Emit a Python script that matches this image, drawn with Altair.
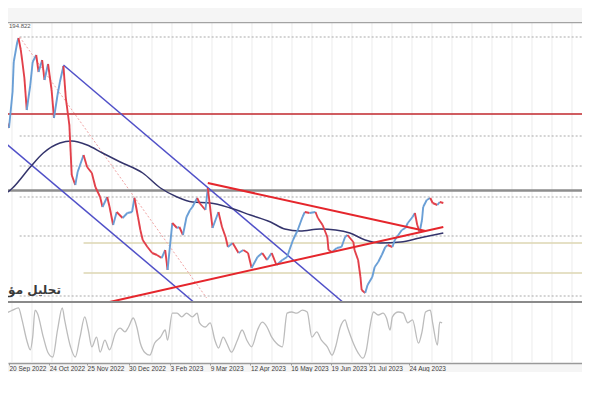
import altair as alt
import pandas as pd

# ---------------- data ----------------
price_dates = ["2022-09-12","2022-09-15","2022-09-17","2022-09-20","2022-09-23","2022-09-24","2022-09-27","2022-09-28","2022-09-30","2022-10-03",
"2022-10-05","2022-10-08","2022-10-10","2022-10-13","2022-10-15","2022-10-18","2022-10-20","2022-10-23","2022-10-26","2022-10-28",
"2022-10-31","2022-11-02","2022-11-05","2022-11-07","2022-11-10","2022-11-12","2022-11-15","2022-11-17","2022-11-22","2022-11-25",
"2022-11-29","2022-12-02","2022-12-06","2022-12-08","2022-12-12","2022-12-14","2022-12-17","2022-12-20","2022-12-25","2022-12-29",
"2023-01-02","2023-01-04","2023-01-07","2023-01-09","2023-01-11","2023-01-15","2023-01-19","2023-01-23","2023-01-27","2023-01-30",
"2023-02-01","2023-02-05","2023-02-09","2023-02-11","2023-02-14","2023-02-17","2023-02-20","2023-02-22","2023-02-26","2023-02-28",
"2023-03-05","2023-03-07","2023-03-11","2023-03-16","2023-03-19","2023-03-22","2023-03-24","2023-03-28","2023-04-02","2023-04-06",
"2023-04-10","2023-04-13","2023-04-18","2023-04-22","2023-04-26","2023-04-30","2023-05-04","2023-05-09","2023-05-13","2023-05-15",
"2023-05-18","2023-05-22","2023-05-26","2023-05-28","2023-06-01","2023-06-06","2023-06-08","2023-06-12","2023-06-16","2023-06-17",
"2023-06-20","2023-06-24","2023-06-28","2023-07-01","2023-07-03","2023-07-08","2023-07-09","2023-07-12","2023-07-14","2023-07-15",
"2023-07-18","2023-07-20","2023-07-24","2023-07-26","2023-07-29","2023-08-01","2023-08-04","2023-08-06","2023-08-10","2023-08-12",
"2023-08-15","2023-08-18","2023-08-21","2023-08-23","2023-08-27","2023-08-29","2023-08-31","2023-09-02","2023-09-04","2023-09-05",
"2023-09-08","2023-09-11","2023-09-13","2023-09-17","2023-09-19","2023-09-22"]
price_close = [187.5,185.8,188.2,187.2,190.8,193.8,195.8,196.2,195.0,192.2,
189.0,191.5,193.8,194.5,192.8,194.0,192.0,193.6,191.0,188.2,
190.5,191.8,193.4,190.2,187.5,182.5,181.5,182.8,184.5,183.3,
182.7,181.3,180.3,179.3,180.3,179.3,177.5,178.8,178.2,178.7,
178.8,180.2,178.3,177.0,176.0,175.3,174.7,174.5,174.2,175.0,
173.0,177.7,177.2,177.3,176.5,178.3,179.0,179.3,180.2,179.7,
179.0,181.2,177.2,178.8,177.3,176.3,175.3,175.7,174.7,175.0,
174.7,173.2,174.3,174.7,174.0,174.7,173.5,174.0,174.3,175.0,
176.0,177.0,178.3,178.8,178.7,178.8,178.2,177.5,176.3,175.0,
174.8,175.2,175.3,176.3,176.5,175.8,175.0,174.0,172.3,171.0,
170.7,171.5,172.3,173.3,173.8,174.5,175.3,175.5,175.3,176.0,
176.5,177.0,177.2,177.7,178.3,178.7,177.5,176.8,178.0,179.3,
180.0,180.2,179.7,179.5,179.8,179.7]

ma_dates = ["2022-09-12","2022-09-23","2022-10-08","2022-10-19","2022-11-02","2022-11-12","2022-11-25","2022-12-08","2022-12-23",
"2023-01-11","2023-01-26","2023-02-09","2023-02-22","2023-03-09","2023-03-26","2023-04-12","2023-04-29","2023-05-11","2023-05-24",
"2023-06-10","2023-06-23","2023-07-05","2023-07-18","2023-07-31","2023-08-17","2023-09-02","2023-09-22"]
ma_values = [180.2,181.2,183.3,184.7,185.7,185.9,185.5,184.7,183.8,182.7,181.2,180.3,179.8,179.7,179.2,178.5,177.8,177.1,176.9,
177.1,177.0,176.7,176.0,175.7,175.8,176.2,176.7]

osc_dates = ["2022-09-12","2022-09-18","2022-09-23","2022-09-28","2022-10-01","2022-10-05","2022-10-08","2022-10-10","2022-10-12","2022-10-14",
"2022-10-19","2022-10-23","2022-10-27","2022-10-31","2022-11-04","2022-11-06","2022-11-11","2022-11-15","2022-11-19","2022-11-23",
"2022-11-26","2022-11-29","2022-12-03","2022-12-06","2022-12-10","2022-12-14","2022-12-19","2022-12-23","2022-12-27","2022-12-30",
"2023-01-03","2023-01-06","2023-01-09","2023-01-13","2023-01-17","2023-01-21","2023-01-26","2023-01-30","2023-02-01","2023-02-05",
"2023-02-09","2023-02-13","2023-02-17","2023-02-22","2023-02-26","2023-02-28","2023-03-05","2023-03-09","2023-03-13","2023-03-16",
"2023-03-20","2023-03-23","2023-03-27","2023-04-01","2023-04-05","2023-04-09","2023-04-13","2023-04-18","2023-04-22","2023-04-26",
"2023-04-30","2023-05-04","2023-05-09","2023-05-13","2023-05-17","2023-05-21","2023-05-26","2023-05-30","2023-06-03","2023-06-07",
"2023-06-11","2023-06-16","2023-06-20","2023-06-23","2023-06-27","2023-07-01","2023-07-03","2023-07-08","2023-07-12","2023-07-16",
"2023-07-19","2023-07-22","2023-07-25","2023-07-29","2023-08-02","2023-08-05","2023-08-08","2023-08-10","2023-08-15","2023-08-19",
"2023-08-23","2023-08-27","2023-09-01","2023-09-04","2023-09-07","2023-09-11","2023-09-13","2023-09-17","2023-09-19","2023-09-21"]
osc_values = [72,83,88,92,72,38,22,43,88,83,
43,17,10,55,92,72,27,10,43,77,
55,27,43,18,38,22,50,58,52,60,
75,60,33,17,13,33,43,55,38,83,
83,77,83,77,83,67,60,67,38,25,
43,33,18,38,55,38,27,55,68,60,
43,33,27,83,85,83,88,85,43,52,
38,27,13,27,60,72,60,33,17,8,
22,60,85,80,83,75,55,77,85,83,
67,72,33,52,85,88,67,30,68,67]

red_level = [188.6]
gray_level = [180.95]
fib_levels = [196.3, 186.4, 183.4, 180.3, 176.4, 170.4]
fib_start = "2022-09-29"
khaki_levels = [175.7, 172.7]
khaki_start = "2022-11-22"

channel_start = ["2022-09-12", "2022-11-05"]
channel_start_p = [186.2, 193.5]
channel_end = ["2023-02-24", "2023-06-30"]
channel_end_p = [169.7, 169.7]

trend_start = ["2023-03-07", "2022-12-14"]
trend_start_p = [181.7, 169.8]
trend_end = ["2023-09-07", "2023-09-22"]
trend_end_p = [176.9, 177.3]

fib_diag_start, fib_diag_start_p = "2022-09-29", 196.3
fib_diag_end, fib_diag_end_p = "2023-03-06", 170.2

tick_labels = [(2022, 9, 20), (2022, 10, 24), (2022, 11, 25), (2022, 12, 30), (2023, 2, 3), (2023, 3, 9),
               (2023, 4, 12), (2023, 5, 16), (2023, 6, 19), (2023, 7, 21), (2023, 8, 24)]

# ---------------- tables ----------------
df_p = pd.DataFrame({"date": price_dates, "close": price_close})
df_p["date2"] = df_p["date"].shift(1)
df_p["close2"] = df_p["close"].shift(1)
df_p = df_p.dropna().copy()
df_p["dir"] = ["up" if c >= c2 else "down" for c, c2 in zip(df_p["close"], df_p["close2"])]

df_ma = pd.DataFrame({"date": ma_dates, "p": ma_values})
df_osc = pd.DataFrame({"date": osc_dates, "v": osc_values})
df_channel = pd.DataFrame({"date": channel_start, "p": channel_start_p, "date2": channel_end, "p2": channel_end_p})
df_trend = pd.DataFrame({"date": trend_start, "p": trend_start_p, "date2": trend_end, "p2": trend_end_p})
df_diag = pd.DataFrame({"date": [fib_diag_start], "p": [fib_diag_start_p], "date2": [fib_diag_end], "p2": [fib_diag_end_p]})
df_fib = pd.DataFrame({"date": [fib_start] * len(fib_levels), "p": fib_levels})
df_khaki = pd.DataFrame({"date": [khaki_start] * len(khaki_levels), "p": khaki_levels})
df_red = pd.DataFrame({"p": red_level})
df_gray = pd.DataFrame({"p": gray_level})

base = pd.Timestamp("2022-09-20")
grid_dates = [(base + pd.Timedelta(days=2.535 + 16.9 * k)).strftime("%Y-%m-%dT%H:%M:%SZ") for k in range(29)]
df_grid = pd.DataFrame({"date": grid_dates})

W, H1, H2 = 574, 281, 60
xdom = [alt.DateTime(year=2022, month=9, date=19, hours=3, minutes=43, utc=True),
        alt.DateTime(year=2024, month=1, date=17, hours=5, minutes=0, utc=True)]
xscale = alt.Scale(type="utc", domain=xdom)
yscale = alt.Scale(domain=[169.7, 197.8], nice=False, zero=False)

X = alt.X("date:T", scale=xscale, axis=None)
Y = alt.Y("p:Q", scale=yscale, axis=None)

grid_main = alt.Chart(df_grid).mark_rule(color="#ececec", strokeWidth=1, clip=True).encode(x=X)
khaki = alt.Chart(df_khaki).mark_rule(color="#ddd6b2", strokeWidth=1.4, clip=True).encode(x=X, x2=alt.value(W), y=Y)
fib = alt.Chart(df_fib).mark_rule(color="#a9a9a9", strokeWidth=1, strokeDash=[2, 2], clip=True).encode(x=X, x2=alt.value(W), y=Y)
diag = alt.Chart(df_diag).mark_rule(color="#f0a3a3", strokeWidth=1, strokeDash=[2, 2], clip=True).encode(
    x=X, x2="date2:T", y=Y, y2="p2:Q")
red_h = alt.Chart(df_red).mark_rule(color="#c0272d", strokeWidth=1.5, clip=True).encode(y=Y)
gray_h = alt.Chart(df_gray).mark_rule(color="#8e8e8e", strokeWidth=2.5, clip=True).encode(y=Y)
channel = alt.Chart(df_channel).mark_rule(color="#5050c8", strokeWidth=1.5, clip=True).encode(
    x=X, x2="date2:T", y=Y, y2="p2:Q")
ma = alt.Chart(df_ma).mark_line(color="#34346c", strokeWidth=1.5, interpolate="monotone", clip=True).encode(x=X, y=Y)
candles = alt.Chart(df_p).mark_rule(strokeWidth=1.9, clip=True).encode(
    x=X, x2="date2:T",
    y=alt.Y("close:Q", scale=yscale, axis=None), y2="close2:Q",
    color=alt.Color("dir:N", scale=alt.Scale(domain=["up", "down"], range=["#6a9fd6", "#e2404a"]), legend=None))
trend = alt.Chart(df_trend).mark_rule(color="#e5262c", strokeWidth=2, clip=True).encode(
    x=X, x2="date2:T", y=Y, y2="p2:Q")
watermark = alt.Chart(pd.DataFrame({"date": ["2022-09-19T06:00:00Z"], "p": [171.0], "t": ["تحليل مؤ"]})).mark_text(
    align="left", baseline="middle", fontSize=12, fontWeight="bold", color="#3a3a3a", font="DejaVu Sans",
    clip=True).encode(x=X, y=Y, text="t:N")
top_label = alt.Chart(pd.DataFrame({"date": ["2022-09-20"], "p": [197.45], "t": ["194.822"]})).mark_text(
    align="left", baseline="middle", fontSize=6, color="#555555", font="Liberation Sans", clip=True).encode(
    x=X, y=Y, text="t:N")
one = pd.DataFrame({"a": [0]})
top_border = alt.Chart(one).mark_rule(color="#a3a3a3", strokeWidth=1.5, clip=True).encode(y=alt.value(0.5))
sep_border = alt.Chart(one).mark_rule(color="#8a8a8a", strokeWidth=2, clip=True).encode(y=alt.value(H1 - 1))

main = alt.layer(grid_main, khaki, fib, diag, red_h, gray_h, channel, ma, candles, trend,
                 watermark, top_label, top_border, sep_border).properties(width=W, height=H1)

osc_axis = alt.Axis(values=[alt.DateTime(year=y, month=m, date=d, utc=True) for (y, m, d) in tick_labels],
                    format="%-d %b %Y", labelAlign="left", labelFontSize=6.5, labelFont="Liberation Sans",
                    labelColor="#3c3c3c", labelPadding=0.5, ticks=True, tickSize=2, tickColor="#9a9a9a",
                    grid=False, domainColor="#9a9a9a", domainWidth=1.5, title=None,
                    labelOverlap=False, labelFlush=False)
XO = alt.X("date:T", scale=xscale, axis=osc_axis)
grid_osc = alt.Chart(df_grid).mark_rule(color="#ececec", strokeWidth=1, clip=True).encode(x=XO)
osc_line = alt.Chart(df_osc).mark_line(color="#bcbcbc", strokeWidth=1.3, interpolate="monotone", clip=True).encode(
    x=XO, y=alt.Y("v:Q", scale=alt.Scale(domain=[0, 100], nice=False), axis=None))
osc = alt.layer(grid_osc, osc_line).properties(width=W, height=H2)

chart = alt.vconcat(main, osc, spacing=0).properties(
    padding={"left": 0, "top": 14, "right": 0, "bottom": 0},
    background="#f5f5f5"
).configure_view(stroke=None, fill="white")

chart.save("out.html", embed_options={"renderer": "svg", "actions": False})
